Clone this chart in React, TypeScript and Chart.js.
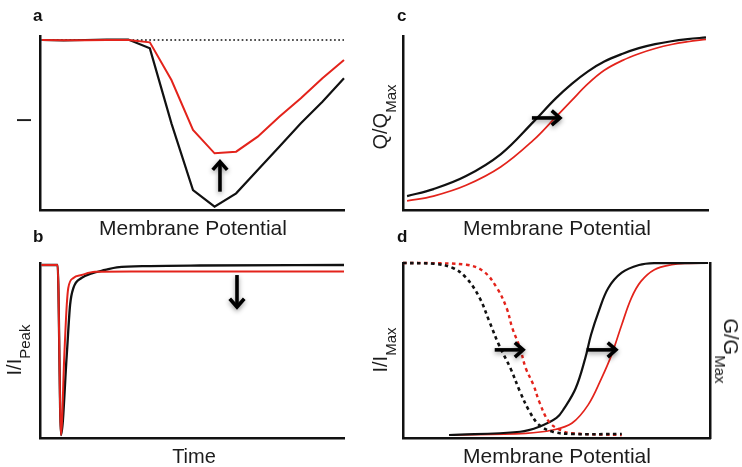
import React, { useEffect, useRef } from "react";
import { Chart, registerables } from "chart.js";

Chart.register(...registerables);

const W = 742;
const H = 467;
const BLACK = "#111111";
const RED = "#e3231b";
const FONT = '"Liberation Sans", Arial, Helvetica, sans-serif';
const TEXT = "#1c1c1c";

// ---------- Panel a: I vs membrane potential (mV) ----------
const aVoltage = [-80, -70, -60, -50, -40, -30, -20, -10, 0, 10, 20, 30, 40, 50, 60];
const aControl = [0, -0.003, 0, 0.002, 0.003, -0.05, -0.5, -0.9, -1.0, -0.92, -0.78, -0.64, -0.5, -0.37, -0.23];
const aMutant = [0, -0.002, -0.002, 0, 0, -0.014, -0.24, -0.54, -0.68, -0.67, -0.58, -0.46, -0.35, -0.23, -0.12];
const aZeroX = [-80.9, 60];
const aZeroY = [0, 0];
const aArrowX = [2.5, 2.5];
const aArrowY = [-0.91, -0.73];

// ---------- Panel b: I/I_Peak vs time ----------
const bControlT = [0.5, 5.8, 6.9, 8.8, 9.9, 11.0, 13.7, 17.0, 21.4, 25.3, 36.2, 52.6, 100];
const bControlI = [0, 0, -1.0, -0.53, -0.235, -0.135, -0.076, -0.049, -0.029, -0.0135, -0.006, -0.003, 0];
const bMutantT = [0.5, 5.8, 6.9, 8.0, 8.8, 9.3, 11.0, 13.7, 18.1, 30, 100];
const bMutantI = [0, 0, -1.0, -0.53, -0.235, -0.135, -0.076, -0.059, -0.04, -0.038, -0.038];
const bArrowX = [64.8, 64.8];
const bArrowY = [-0.059, -0.247];

// ---------- Panel c: Q/Q_Max vs membrane potential ----------
const cVoltage = [-98, -85, -69, -52, -36, -25, -17, -9, -1, 8, 16, 24, 32, 40, 49];
const cControl = [0.08, 0.12, 0.195, 0.32, 0.505, 0.64, 0.725, 0.797, 0.853, 0.898, 0.93, 0.953, 0.97, 0.982, 0.992];
const cMutant = [0.052, 0.08, 0.142, 0.247, 0.4, 0.532, 0.63, 0.726, 0.803, 0.86, 0.898, 0.928, 0.951, 0.967, 0.981];
const cArrowX = [-36.6, -22.8];
const cArrowY = [0.529, 0.529];

// ---------- Panel d: I/I_Max (inactivation) and G/G_Max (activation) ----------
const dInactCtrlV = [-120, -104, -94, -87, -80, -75, -70, -64, -59, -54, -49, -42, -32, -6];
const dInactCtrl = [1.0, 0.996, 0.971, 0.913, 0.796, 0.66, 0.524, 0.388, 0.252, 0.135, 0.058, 0.019, 0.006, 0.006];
const dInactMutV = [-120, -108, -87, -78, -71, -66, -63, -59, -56, -52, -49, -44, -38, -32, -6];
const dInactMut = [1.0, 1.0, 0.99, 0.951, 0.854, 0.738, 0.621, 0.505, 0.388, 0.291, 0.194, 0.078, 0.029, 0.01, 0.0];
const dActCtrlV = [-96, -59, -49, -40, -36, -30, -25, -22, -18, -13, -6, 3, 11, 39];
const dActCtrl = [0, 0.019, 0.048, 0.099, 0.155, 0.272, 0.447, 0.583, 0.719, 0.855, 0.944, 0.988, 0.999, 1.0];
const dActMutV = [-96, -56, -42, -32, -23.5, -16.5, -11.3, -6, -1, 4, 11, 20, 29, 39];
const dActMut = [0, 0.01, 0.029, 0.068, 0.175, 0.331, 0.466, 0.641, 0.796, 0.893, 0.961, 0.99, 0.998, 1.0];
const dArrow1X = [-72.2, -57.4];
const dArrow2X = [-24.3, -9.0];
const dArrowY = [0.495, 0.495];

function pts(xs: number[], ys: number[]) {
  return xs.map((x, i) => ({ x, y: ys[i] }));
}

type Arrow = { xs: number[]; ys: number[] };

function arrowPlugin(items: Arrow[], yId = "y") {
  return {
    id: "arrows",
    afterDatasetsDraw(chart: any) {
      const ctx = chart.ctx;
      const sx = chart.scales.x;
      const sy = chart.scales[yId];
      ctx.save();
      ctx.strokeStyle = "#000";
      ctx.lineWidth = 3.6;
      ctx.lineJoin = "miter";
      ctx.lineCap = "butt";
      ctx.shadowColor = "rgba(0,0,0,0.4)";
      ctx.shadowBlur = 5;
      ctx.shadowOffsetY = 2;
      for (const a of items) {
        const x1 = sx.getPixelForValue(a.xs[0]);
        const x2 = sx.getPixelForValue(a.xs[1]);
        const y1 = sy.getPixelForValue(a.ys[0]);
        const y2 = sy.getPixelForValue(a.ys[1]);
        const ang = Math.atan2(y2 - y1, x2 - x1);
        const hl = 11;
        const ha = 0.72;
        ctx.beginPath();
        ctx.moveTo(x1, y1);
        ctx.lineTo(x2 - 2 * Math.cos(ang), y2 - 2 * Math.sin(ang));
        ctx.stroke();
        ctx.beginPath();
        ctx.moveTo(x2 - hl * Math.cos(ang - ha), y2 - hl * Math.sin(ang - ha));
        ctx.lineTo(x2, y2);
        ctx.lineTo(x2 - hl * Math.cos(ang + ha), y2 - hl * Math.sin(ang + ha));
        ctx.stroke();
      }
      ctx.restore();
    },
  };
}

function axis(min: number, max: number, position: string, border = true) {
  return {
    type: "linear",
    position,
    min,
    max,
    display: true,
    grid: { display: false, drawTicks: false },
    border: { display: border, color: BLACK, width: 2.5 },
    ticks: { display: false },
    title: { display: false },
  };
}

function line(data: any, color: string, width: number, extra: any = {}) {
  return {
    data,
    borderColor: color,
    backgroundColor: color,
    borderWidth: width,
    pointRadius: 0,
    fill: false,
    clip: false,
    ...extra,
  };
}

function baseOptions(padding: any, scales: any) {
  return {
    responsive: false,
    animation: false,
    events: [],
    layout: { padding },
    plugins: { legend: { display: false }, tooltip: { enabled: false } },
    scales,
  };
}

const SMOOTH = { tension: 0.38 };

const configs: any[] = [
  // a
  {
    type: "line",
    data: {
      datasets: [
        line(pts(aVoltage, aMutant), RED, 2),
        line(pts(aVoltage, aControl), BLACK, 2.2),
        line(pts(aZeroX, aZeroY), BLACK, 1.7, { borderDash: [1.7, 2.5] }),
      ],
    },
    options: baseOptions(
      { left: 40, top: 36, right: W - 344, bottom: H - 210 },
      { x: axis(-80.93, 60, "bottom"), y: axis(-1.02, 0.024, "left") }
    ),
    plugins: [arrowPlugin([{ xs: aArrowX, ys: aArrowY }])],
  },
  // b
  {
    type: "line",
    data: {
      datasets: [
        line(pts(bMutantT, bMutantI), RED, 2, { cubicInterpolationMode: "monotone" }),
        line(pts(bControlT, bControlI), BLACK, 2.3, { cubicInterpolationMode: "monotone" }),
      ],
    },
    options: baseOptions(
      { left: 40, top: 263, right: W - 344, bottom: H - 438 },
      { x: axis(0, 100, "bottom"), y: axis(-1.0176, 0.0118, "left") }
    ),
    plugins: [arrowPlugin([{ xs: bArrowX, ys: bArrowY }])],
  },
  // c
  {
    type: "line",
    data: {
      datasets: [
        line(pts(cVoltage, cControl), BLACK, 2.2, SMOOTH),
        line(pts(cVoltage, cMutant), RED, 1.7, SMOOTH),
      ],
    },
    options: baseOptions(
      { left: 403, top: 36, right: W - 708, bottom: H - 210 },
      { x: axis(-100, 50, "bottom"), y: axis(0, 1, "left") }
    ),
    plugins: [arrowPlugin([{ xs: cArrowX, ys: cArrowY }])],
  },
  // d
  {
    type: "line",
    data: {
      datasets: [
        line(pts(dInactCtrlV, dInactCtrl), BLACK, 2.6, { borderDash: [3.5, 3.5], yAxisID: "y", ...SMOOTH }),
        line(pts(dInactMutV, dInactMut), RED, 2.4, { borderDash: [3.5, 3.5], yAxisID: "y", ...SMOOTH }),
        line(pts(dActCtrlV, dActCtrl), BLACK, 2.2, { yAxisID: "y2", ...SMOOTH }),
        line(pts(dActMutV, dActMut), RED, 1.7, { yAxisID: "y2", ...SMOOTH }),
      ],
    },
    options: baseOptions(
      { left: 403, top: 263, right: W - 710, bottom: H - 438 },
      {
        x: axis(-120, 40, "bottom"),
        y: axis(-0.0174, 1, "left"),
        y2: axis(-0.0174, 1, "right"),
      }
    ),
    plugins: [arrowPlugin([{ xs: dArrow1X, ys: dArrowY }, { xs: dArrow2X, ys: dArrowY }])],
  },
];

function Layer({ config }: { config: any }) {
  const ref = useRef<HTMLCanvasElement | null>(null);
  useEffect(() => {
    if (!ref.current) return;
    const chart = new Chart(ref.current, config);
    return () => chart.destroy();
  }, [config]);
  return (
    <canvas
      ref={ref}
      width={W}
      height={H}
      style={{ position: "absolute", left: 0, top: 0, width: W, height: H }}
    />
  );
}

const base: React.CSSProperties = {
  position: "absolute",
  fontFamily: FONT,
  color: TEXT,
  lineHeight: 1,
  whiteSpace: "nowrap",
};

function Sub({ text, size = 15, drop = 9 }: { text: string; size?: number; drop?: number }) {
  return (
    <span style={{ fontSize: size, position: "relative", top: drop }}>{text}</span>
  );
}

function VLabel({ cx, cy, rot, size, main, sub }: { cx: number; cy: number; rot: number; size: number; main: string; sub?: string }) {
  return (
    <div
      style={{
        ...base,
        left: cx,
        top: cy,
        fontSize: size,
        transform: `translate(-50%, -50%) rotate(${rot}deg)`,
      }}
    >
      {main}
      {sub ? <Sub text={sub} /> : null}
    </div>
  );
}

function HLabel({ cx, top, size, text }: { cx: number; top: number; size: number; text: string }) {
  return (
    <div style={{ ...base, left: cx, top, fontSize: size, transform: "translateX(-50%)" }}>{text}</div>
  );
}

function Letter({ left, top, text }: { left: number; top: number; text: string }) {
  return (
    <div style={{ ...base, left, top, fontSize: 17, fontWeight: "bold", color: "#111" }}>{text}</div>
  );
}

export default function App() {
  return (
    <div style={{ position: "absolute", left: 0, top: 0, width: W, height: H, background: "#ffffff", overflow: "hidden" }}>
      {configs.map((c, i) => (
        <Layer key={i} config={c} />
      ))}
      <Letter left={33} top={6.6} text="a" />
      <Letter left={397} top={6.6} text="c" />
      <Letter left={33} top={227.6} text="b" />
      <Letter left={397} top={227.6} text="d" />

      <HLabel cx={193} top={217.2} size={21} text="Membrane Potential" />
      <HLabel cx={557} top={217.2} size={21} text="Membrane Potential" />
      <HLabel cx={194} top={445.8} size={20} text="Time" />
      <HLabel cx={557} top={444.9} size={21} text="Membrane Potential" />

      <VLabel cx={22.8} cy={120} rot={-90} size={21} main="I" />
      <VLabel cx={14.4} cy={350} rot={-90} size={20} main="I/I" sub="Peak" />
      <VLabel cx={380.1} cy={117} rot={-90} size={20} main="Q/Q" sub="Max" />
      <VLabel cx={380.1} cy={350} rot={-90} size={20} main="I/I" sub="Max" />
      <VLabel cx={731.3} cy={351} rot={90} size={20} main="G/G" sub="Max" />
    </div>
  );
}
